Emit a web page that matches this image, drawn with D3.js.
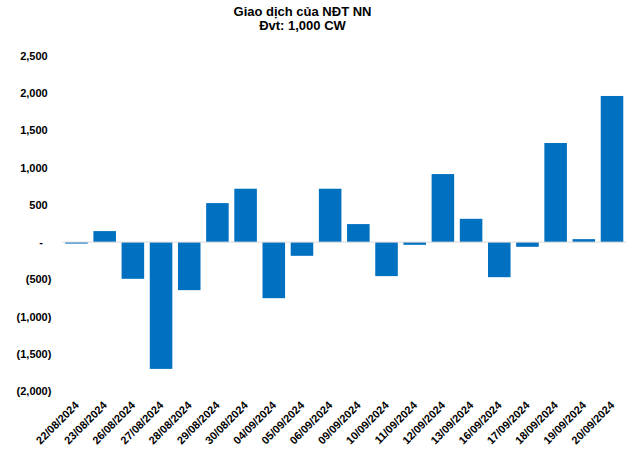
<!DOCTYPE html>
<html>
<head>
<meta charset="utf-8">
<script src="https://cdn.jsdelivr.net/npm/d3@7"></script>
<style>
  html, body { margin: 0; padding: 0; background: #fff; }
  svg { display: block; font-family: "Liberation Sans", Arial, sans-serif; }
</style>
</head>
<body>
<svg id="chart" width="640" height="453"></svg>
<script>
const titleLines = ["Giao dịch của NĐT NN", "Đvt: 1,000 CW"];
const categories = ["22/08/2024","23/08/2024","26/08/2024","27/08/2024","28/08/2024","29/08/2024","30/08/2024","04/09/2024","05/09/2024","06/09/2024","09/09/2024","10/09/2024","11/09/2024","12/09/2024","13/09/2024","16/09/2024","17/09/2024","18/09/2024","19/09/2024","20/09/2024"];
const values = [-20, 148, -493, -1703, -645, 524, 717, -753, -184, 717, 242, -457, -36, 914, 313, -471, -63, 1331, 40, 1963];
const yTicks = [2500, 2000, 1500, 1000, 500, 0, -500, -1000, -1500, -2000];

const svg = d3.select("#chart");
const plotLeft = 62.4, plotRight = 626.1, plotTop = 56, plotBottom = 391;

const x = d3.scaleBand().domain(categories).range([plotLeft, plotRight]).paddingInner(0.2).paddingOuter(0.1);
const y = d3.scaleLinear().domain([-2000, 2500]).range([plotBottom, plotTop]);

// Title
svg.append("text").attr("x", 302.5).attr("y", 16).attr("text-anchor", "middle")
  .attr("font-size", "13px").attr("font-weight", "bold").attr("fill", "#000").text(titleLines[0]);
svg.append("text").attr("x", 302.5).attr("y", 29.5).attr("text-anchor", "middle")
  .attr("font-size", "13px").attr("font-weight", "bold").attr("fill", "#000").text(titleLines[1]);

// Y axis
const fmt = d => d === 0 ? "-" : (d < 0 ? "(" + d3.format(",")(-d) + ")" : d3.format(",")(d));
const yAxis = svg.append("g").attr("transform", `translate(${plotLeft},0)`)
  .call(d3.axisLeft(y).tickValues(yTicks).tickFormat(fmt).tickSize(0).tickPadding(11));
yAxis.select(".domain").remove();
yAxis.selectAll("text")
  .attr("font-size", "11px").attr("font-weight", "bold").attr("fill", "#000")
  .attr("font-family", "'Liberation Sans', Arial, sans-serif")
  .attr("dx", d => d > 0 ? "-3.7" : (d === 0 ? "-8.5" : "0"));

// Bars
svg.append("g").selectAll("rect").data(values).join("rect")
  .attr("x", (d, i) => x(categories[i]))
  .attr("width", x.bandwidth())
  .attr("y", d => y(Math.max(0, d)))
  .attr("height", d => Math.abs(y(d) - y(0)))
  .attr("fill", "#0070C0");

// Zero line
svg.append("line").attr("x1", plotLeft).attr("x2", plotRight).attr("y1", y(0)).attr("y2", y(0))
  .attr("stroke", "#d9d9d9").attr("stroke-width", 1);

// X axis
const xAxis = svg.append("g").attr("transform", `translate(0,${plotBottom})`)
  .call(d3.axisBottom(x).tickSize(0).tickPadding(0));
xAxis.select(".domain").remove();
xAxis.selectAll("text")
  .attr("font-size", "11px").attr("font-weight", "bold").attr("fill", "#000")
  .attr("font-family", "'Liberation Sans', Arial, sans-serif")
  .attr("text-anchor", "end")
  .attr("x", 0).attr("y", 0).attr("dy", "0")
  .attr("transform", "translate(3,15) rotate(-45)");
</script>
</body>
</html>
